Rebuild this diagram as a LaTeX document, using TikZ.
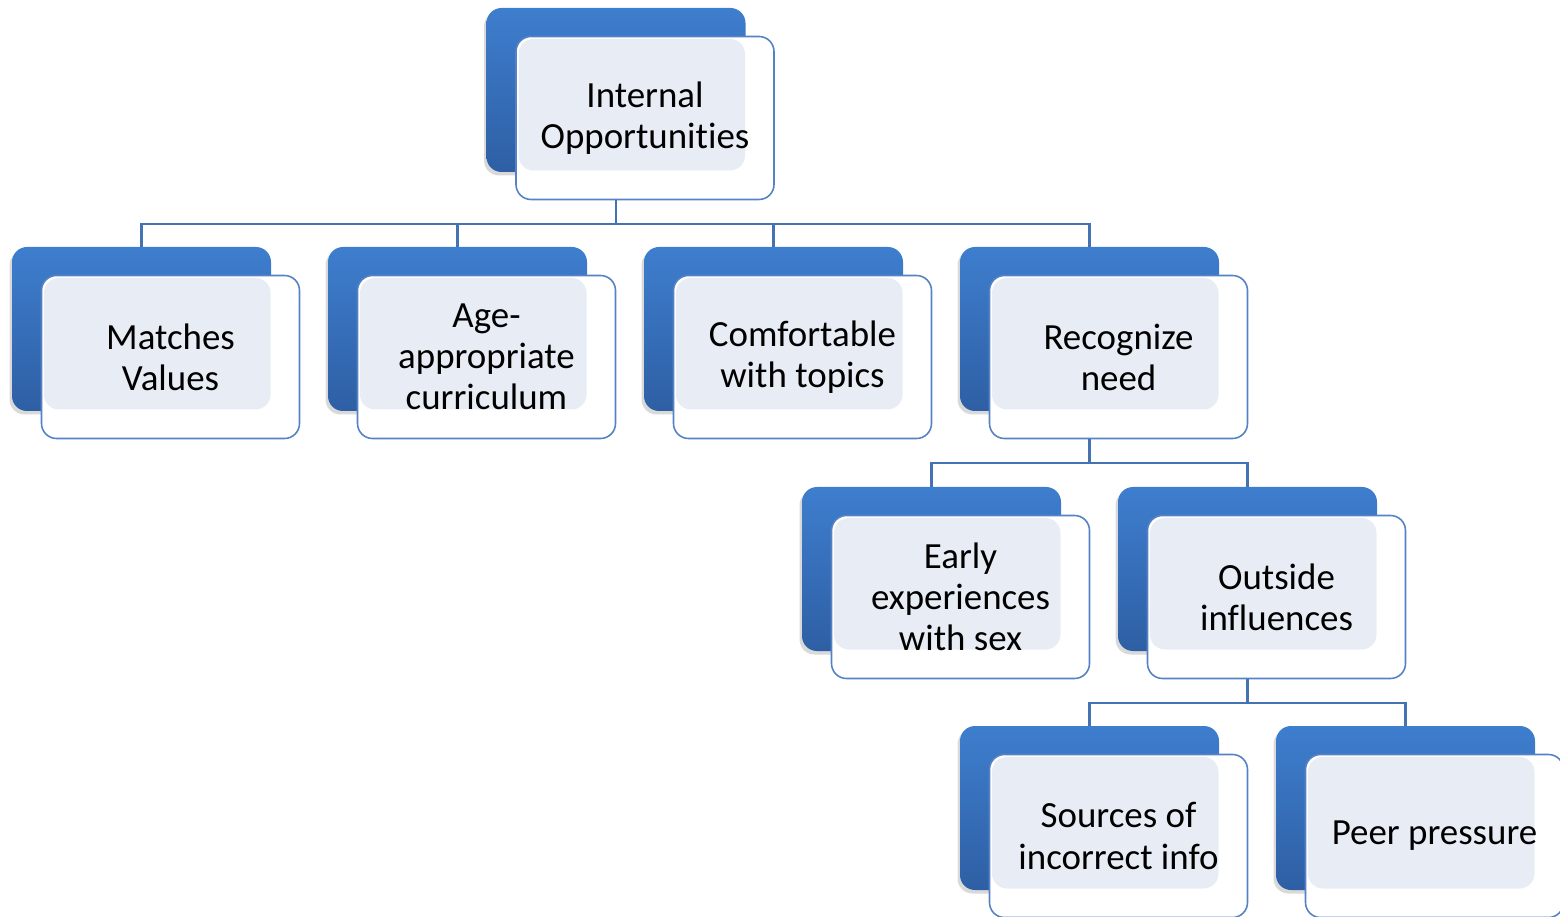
\documentclass[tikz,border=0pt]{standalone}
\usepackage{fontspec}
\setmainfont{Carlito}[Ligatures=NoCommon]
\usetikzlibrary{positioning,shadows}

\definecolor{tileTop}{RGB}{62,126,206}
\definecolor{tileBot}{RGB}{46,95,164}
\definecolor{rim}{RGB}{84,130,196}
\definecolor{wire}{RGB}{68,114,178}
\definecolor{haze}{RGB}{232,237,245}

\begin{document}
\begin{tikzpicture}[
    backbox/.style={rounded corners=0.3cm, minimum width=5.18cm, minimum height=3.28cm,
        top color=tileTop, bottom color=tileBot, draw=none,
        drop shadow={shadow xshift=-0.05cm, shadow yshift=-0.07cm, opacity=0.3}},
    frontbox/.style={draw=rim, line width=0.9pt, rounded corners=0.3cm, fill=white,
        minimum width=5.16cm, minimum height=3.26cm, align=center, inner sep=0pt,
        font=\fontsize{21}{23.4}\selectfont,
        path picture={\fill[haze] ([shift={(0.05,-0.05)}]path picture bounding box.north west)
            rectangle ([shift={(-0.58,0.58)}]path picture bounding box.south east);}},
    link/.style={draw=wire, line width=1.3pt}
]
\useasboundingbox (0,0) rectangle (31.2,-18.34);
\clip (0,0) rectangle (31.2,-18.34);

% back tiles
\node[backbox] (iob) at (12.32,-1.8) {};
\node[backbox] (mvb) at (2.83,-6.58) {};
\node[backbox] (aab) at (9.15,-6.58) {};
\node[backbox] (ctb) at (15.47,-6.58) {};
\node[backbox] (rnb) at (21.79,-6.58) {};
\node[backbox] (esb) at (18.63,-11.38) {};
\node[backbox] (oib) at (24.95,-11.38) {};
\node[backbox] (sib) at (21.79,-16.16) {};
\node[backbox] (ppb) at (28.11,-16.16) {};

% front cards with the labels
\node[frontbox] (io) at ([shift={(0.58,-0.56)}]iob) {Internal\\Opportunities};
\node[frontbox] (mv) at ([shift={(0.58,-0.56)}]mvb) {Matches\\Values};
\node[frontbox] (aa) at ([shift={(0.58,-0.56)}]aab) {Age-\\appropriate\\curriculum};
\node[frontbox] (ct) at ([shift={(0.58,-0.56)}]ctb) {Comfortable\\with topics};
\node[frontbox] (rn) at ([shift={(0.58,-0.56)}]rnb) {Recognize\\need};
\node[frontbox] (es) at ([shift={(0.58,-0.56)}]esb) {Early\\experiences\\with sex};
\node[frontbox] (oi) at ([shift={(0.58,-0.56)}]oib) {Outside\\influences};
\node[frontbox] (si) at ([shift={(0.58,-0.56)}]sib) {Sources of\\incorrect info};
\node[frontbox] (pp) at ([shift={(0.58,-0.56)}]ppb) {Peer pressure};

% tree links
\draw[link] (iob |- io.south) -- ++(0,-0.48) -| (mvb.north);
\draw[link] (iob |- io.south) -- ++(0,-0.48) -| (aab.north);
\draw[link] (iob |- io.south) -- ++(0,-0.48) -| (ctb.north);
\draw[link] (iob |- io.south) -- ++(0,-0.48) -| (rnb.north);
\draw[link] (rnb |- rn.south) -- ++(0,-0.48) -| (esb.north);
\draw[link] (rnb |- rn.south) -- ++(0,-0.48) -| (oib.north);
\draw[link] (oib |- oi.south) -- ++(0,-0.48) -| (sib.north);
\draw[link] (oib |- oi.south) -- ++(0,-0.48) -| (ppb.north);
\end{tikzpicture}
\end{document}
